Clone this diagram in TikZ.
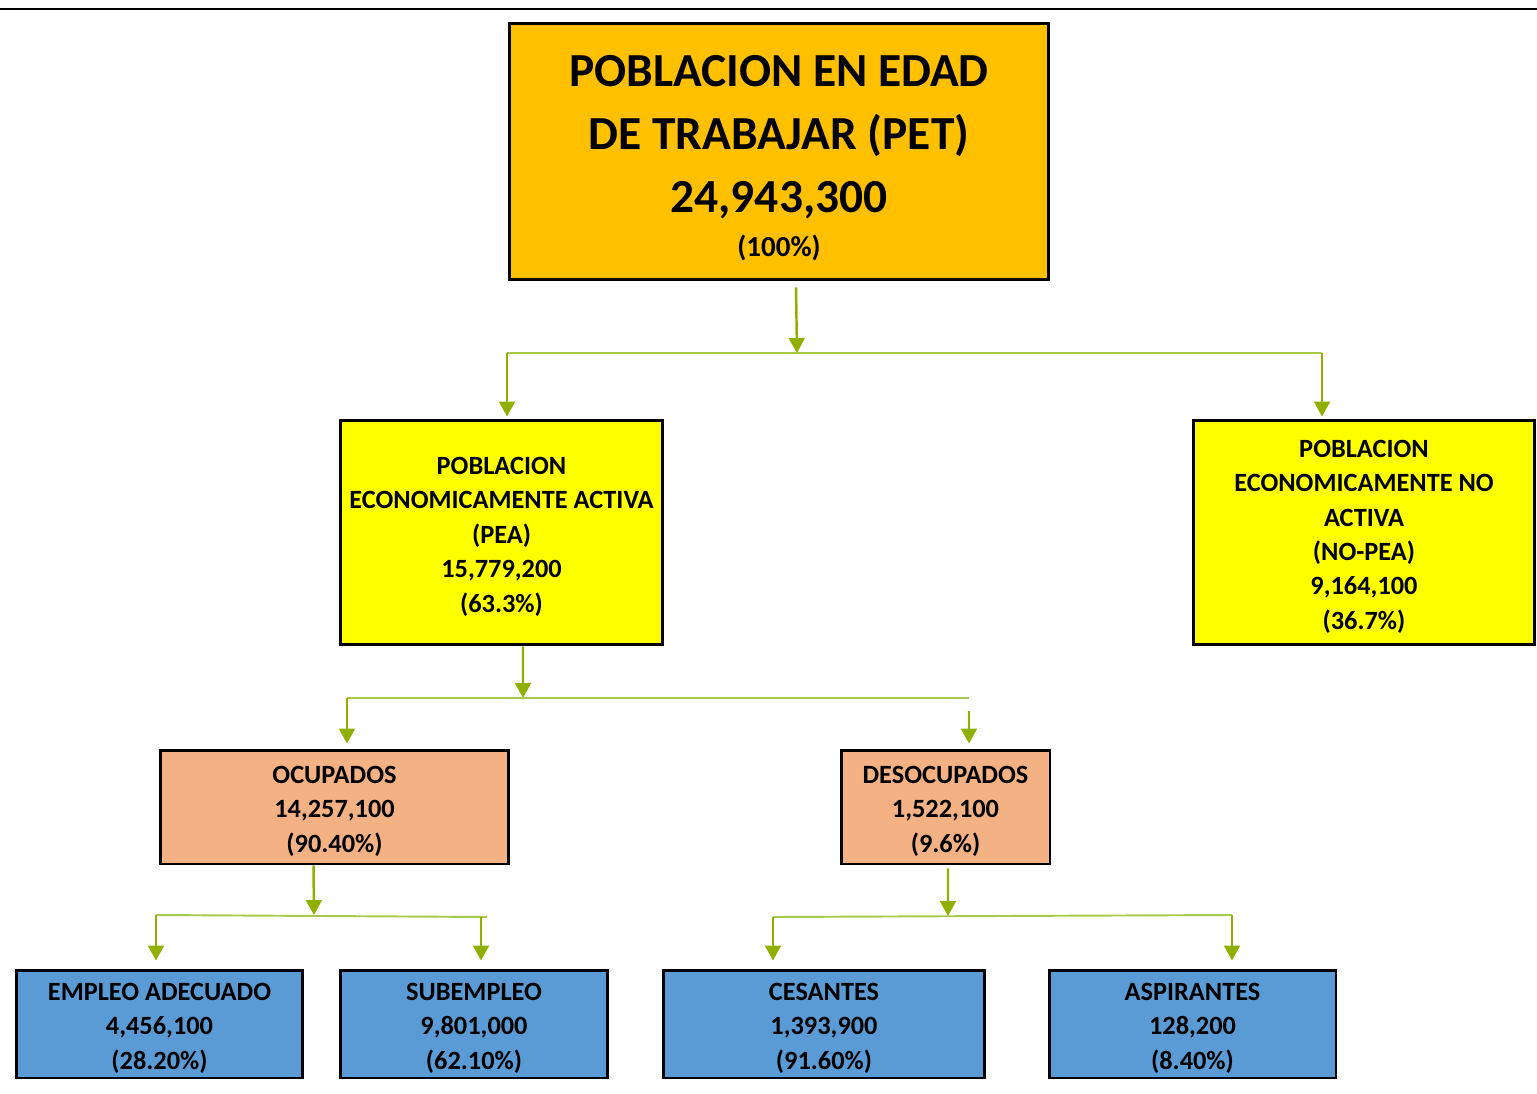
\documentclass[tikz,border=0pt]{standalone}
\usepackage{fontspec}
\setmainfont{Carlito}
\usepackage{xcolor}
\usetikzlibrary{arrows.meta,positioning}
\definecolor{petcol}{RGB}{255, 192, 0}
\definecolor{peacol}{RGB}{255, 255, 0}
\definecolor{ocucol}{RGB}{244, 177, 131}
\definecolor{subcol}{RGB}{91, 155, 213}
\definecolor{arrcol}{RGB}{143, 176, 0}
\definecolor{buscol}{RGB}{169, 201, 74}
\newcommand{\lift}[1][14.5pt]{\rule{0pt}{#1}}
\tikzstyle{box} = [rectangle, draw=black, line width=1.7pt, align=center, inner sep=0pt, font={\fontsize{15}{19.6}\selectfont\bfseries}]
\tikzstyle{line} = [draw=arrcol, line width=1.4pt, -{Triangle[width=9pt,length=8.5pt]}]
\tikzstyle{bus} = [draw=buscol, line width=1.1pt]

\begin{document}
\begin{tikzpicture}[x=0.02cm, y=-0.02cm]
    \useasboundingbox (0,0) rectangle (1537,1094);
    \draw [line width=1.2pt] (0,9) -- (1537,9);

    \node [box, fill=petcol, minimum width=10.8cm, minimum height=5.14cm,
           font={\fontsize{27}{36}\selectfont\bfseries}] (pet) at (779,151.5)
        {\lift[25pt]POBLACION EN EDAD\\DE TRABAJAR (PET)\\24,943,300\\[-11pt]{\fontsize{16.5}{19.6}\selectfont (100\%)}};
    \node [box, fill=peacol, minimum width=6.46cm, minimum height=4.5cm] (pea) at (501.5,532.5)
        {\lift POBLACION\\ECONOMICAMENTE ACTIVA\\(PEA)\\15,779,200\\(63.3\%)};
    \node [box, fill=peacol, minimum width=6.84cm, minimum height=4.5cm] (nopea) at (1364,532.5)
        {\lift POBLACION\\ECONOMICAMENTE NO\\ACTIVA\\(NO-PEA)\\9,164,100\\(36.7\%)};
    \node [box, fill=ocucol, minimum width=6.98cm, minimum height=2.28cm] (ocup) at (334.5,807)
        {\lift OCUPADOS\\14,257,100\\(90.40\%)};
    \node [box, fill=ocucol, minimum width=4.18cm, minimum height=2.28cm] (desoc) at (945.5,807)
        {\lift DESOCUPADOS\\1,522,100\\(9.6\%)};
    \node [box, fill=subcol, minimum width=5.74cm, minimum height=2.16cm] (adec) at (159.5,1024)
        {\lift EMPLEO ADECUADO\\4,456,100\\(28.20\%)};
    \node [box, fill=subcol, minimum width=5.36cm, minimum height=2.16cm] (subem) at (474,1024)
        {\lift SUBEMPLEO\\9,801,000\\(62.10\%)};
    \node [box, fill=subcol, minimum width=6.44cm, minimum height=2.16cm] (cesan) at (824,1024)
        {\lift CESANTES\\1,393,900\\(91.60\%)};
    \node [box, fill=subcol, minimum width=5.74cm, minimum height=2.16cm] (aspir) at (1192.5,1024)
        {\lift ASPIRANTES\\128,200\\(8.40\%)};

    % bus junctions
    \coordinate (b1) at (797,353);
    \coordinate (b1l) at (507,353);
    \coordinate (b1r) at (1322,353);
    \coordinate (b2) at (523,698);
    \coordinate (b2l) at (347,698);
    \coordinate (b2r) at (969,698);
    \coordinate (b2s) at (969,711);
    \coordinate (b3) at (314,915);
    \coordinate (b3l) at (156,915);
    \coordinate (b3r) at (487,917);
    \coordinate (b3d) at (481,917);
    \coordinate (b4) at (948,916);
    \coordinate (b4l) at (773,917);
    \coordinate (b4r) at (1232,915);

    \path [bus] (b1l) -- (b1r);
    \path [bus] (b2l) -- (b2r);
    \path [bus] (b3l) -- (b3r);
    \path [bus] (b4l) -- (b4r);

    \path [line] ([xshift=0.34cm,yshift=-0.12cm]pet.south) -- (b1);
    \path [line] (b1l) -- ([yshift=0.04cm]b1l |- pea.north);
    \path [line] (b1r) -- ([yshift=0.04cm]b1r |- nopea.north);
    \path [line] ([xshift=0.43cm]pea.south) -- (b2);
    \path [line] (b2l) -- ([yshift=0.1cm]b2l |- ocup.north);
    \path [line] (b2s) -- ([yshift=0.1cm]b2s |- desoc.north);
    \path [line] ([xshift=-0.42cm]ocup.south) -- (b3);
    \path [line] (b3l) -- ([yshift=0.16cm]b3l |- adec.north);
    \path [line] (b3d) -- ([yshift=0.16cm]b3d |- subem.north);
    \path [line] ([xshift=0.05cm,yshift=-0.06cm]desoc.south) -- (b4);
    \path [line] (b4l) -- ([yshift=0.16cm]b4l |- cesan.north);
    \path [line] (b4r) -- ([yshift=0.16cm]b4r |- aspir.north);
\end{tikzpicture}
\end{document}
